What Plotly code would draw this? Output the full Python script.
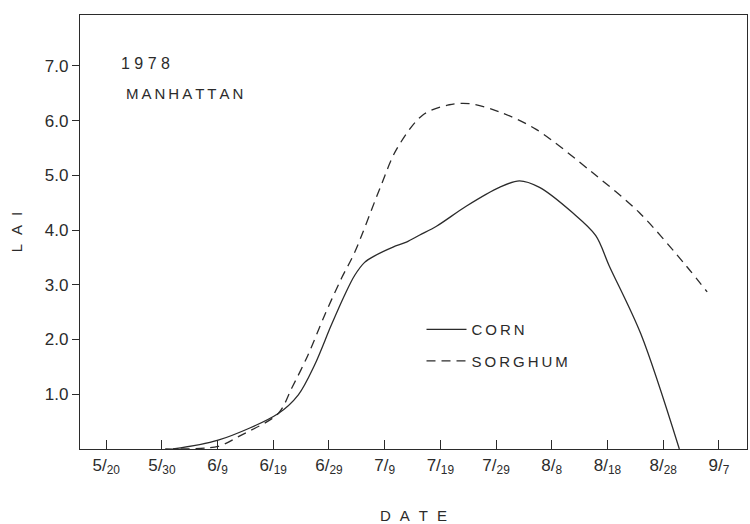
import plotly.graph_objects as go

# Day of year (1978) and leaf area index for each crop
corn_doy = [152.0, 160.1, 170.9, 174.5, 177.4, 180.4, 182.8, 184.6, 186.4,
            188.2, 191.5, 193.9, 196.3, 199.3, 204.7, 210.6, 214.2, 217.8, 223.7,
            227.9, 230.3, 236.0, 242.9]
corn_lai = [0.0, 0.16, 0.65, 0.99, 1.53, 2.26, 2.81, 3.17, 3.41,
            3.53, 3.69, 3.78, 3.91, 4.07, 4.44, 4.78, 4.9, 4.78, 4.32,
            3.90, 3.35, 2.1, 0.0]

sorghum_doy = [150.6, 160.1, 164.0, 170.9, 173.3, 176.2, 179.2, 182.2, 184.6,
               189.1, 192.1, 196.8, 201.6, 205.2, 210.6, 217.2, 227.3, 235.7,
               244.1, 247.9]
sorghum_lai = [0.0, 0.05, 0.24, 0.65, 1.11, 1.71, 2.44, 3.11, 3.59,
               4.75, 5.47, 6.1, 6.29, 6.31, 6.16, 5.84, 5.05, 4.32,
               3.35, 2.87]

# Date ticks every ten days from May 20
date_ticks = [140, 150, 160, 170, 180, 190, 200, 210, 220, 230, 240, 250]
date_labels = ["5/<sub>20</sub>", "5/<sub>30</sub>", "6/<sub>9</sub>", "6/<sub>19</sub>",
               "6/<sub>29</sub>", "7/<sub>9</sub>", "7/<sub>19</sub>", "7/<sub>29</sub>",
               "8/<sub>8</sub>", "8/<sub>18</sub>", "8/<sub>28</sub>", "9/<sub>7</sub>"]
lai_ticks = [1, 2, 3, 4, 5, 6, 7]
lai_labels = ["1.0", "2.0", "3.0", "4.0", "5.0", "6.0", "7.0"]

INK = "#2b2b2b"
FONT = "Liberation Sans"
TS = "\u2009"  # thin space used for spaced lettering

def spaced(word, sep=TS):
    return sep.join(word)

fig = go.Figure()
fig.add_trace(go.Scatter(
    x=corn_doy, y=corn_lai, mode="lines", name=spaced("CORN"),
    line=dict(color=INK, width=1.3, shape="spline", smoothing=0.9),
    legendgroup="corn",
))
fig.add_trace(go.Scatter(
    x=sorghum_doy, y=sorghum_lai, mode="lines", name=spaced("SORGHUM"),
    line=dict(color=INK, width=1.3, dash="9px,6px", shape="spline", smoothing=0.9),
    legendgroup="sorghum",
))

fig.add_annotation(text=spaced("1978", " "), xref="paper", yref="paper",
                   x=0.058, y=0.888, xanchor="left", yanchor="middle",
                   showarrow=False, font=dict(family=FONT, size=16, color=INK))
fig.add_annotation(text=spaced("MANHATTAN"), xref="paper", yref="paper",
                   x=0.066, y=0.82, xanchor="left", yanchor="middle",
                   showarrow=False, font=dict(family=FONT, size=15, color=INK))

fig.update_layout(
    width=750, height=524,
    margin=dict(l=80, r=2, t=15, b=73),
    paper_bgcolor="white", plot_bgcolor="white",
    font=dict(family=FONT, size=15, color=INK),
    showlegend=True,
    legend=dict(x=0.512, y=0.313, xanchor="left", yanchor="top",
                bgcolor="rgba(0,0,0,0)", font=dict(family=FONT, size=15, color=INK),
                traceorder="grouped", tracegroupgap=9, itemwidth=40),
    xaxis=dict(
        range=[135.3, 255.05], tickmode="array", tickvals=date_ticks, ticktext=date_labels,
        ticks="inside", ticklen=9, tickwidth=1.3, tickcolor=INK,
        showline=True, linecolor=INK, linewidth=1.3, mirror=True,
        showgrid=False, zeroline=False,
        tickfont=dict(family=FONT, size=17, color=INK),
        title=dict(text=spaced(spaced("DATE")), font=dict(family=FONT, size=15, color=INK),
                   standoff=34),
    ),
    yaxis=dict(
        range=[0, 7.93], tickmode="array", tickvals=lai_ticks, ticktext=lai_labels,
        ticks="outside", ticklen=7, tickwidth=1.3, tickcolor=INK,
        showline=True, linecolor=INK, linewidth=1.3, mirror=True,
        showgrid=False, zeroline=False,
        tickfont=dict(family=FONT, size=17, color=INK),
        title=dict(text=spaced(spaced("LAI")), font=dict(family=FONT, size=15, color=INK),
                   standoff=18),
    ),
)

fig.write_html("out.html")
